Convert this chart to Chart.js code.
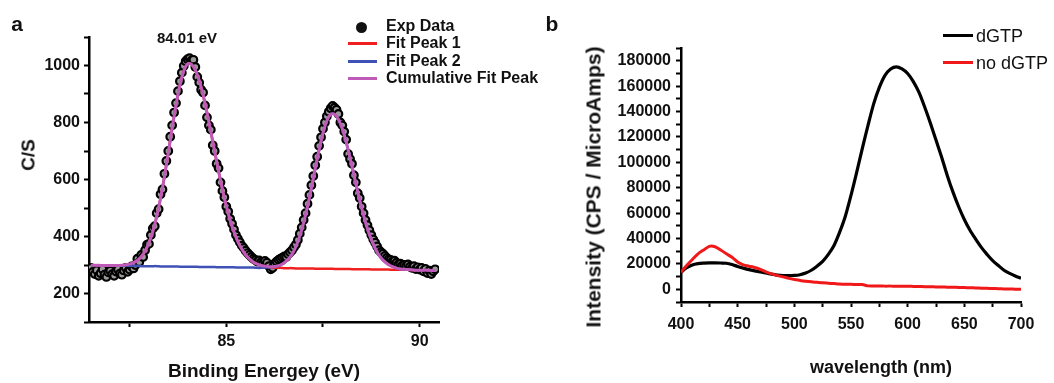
<!DOCTYPE html>
<html>
<head>
<meta charset="utf-8">
<script src="https://cdn.jsdelivr.net/npm/chart.js@4.4.0/dist/chart.umd.min.js"></script>
<style>
  body { margin: 0; background: #fff; font-family: "Liberation Sans", Arial, sans-serif; }
  #wrap { position: relative; width: 1054px; height: 383px; overflow: hidden; }
  canvas { position: absolute; top: 0; }
  .t { position: absolute; white-space: nowrap; color: #111; line-height: 1; }
  .c { transform: translate(-50%, -50%); }
  .l { transform: translateY(-50%); }
  .r { transform: translate(-50%, -50%) rotate(-90deg); }
  .ln { position: absolute; height: 3px; }
</style>
</head>
<body>
<div id="wrap">
  <canvas id="xps" width="540" height="383" style="left:0"></canvas>
  <canvas id="fl" width="514" height="383" style="left:540px"></canvas>

  <div class="t c" style="left:17px; top:23px; font-size:21px; font-weight:bold">a</div>
  <div class="t c" style="left:552px; top:23px; font-size:21px; font-weight:bold">b</div>
  <div class="t c" style="left:187px; top:37px; font-size:15px; font-weight:bold">84.01 eV</div>
  <div class="t r" style="left:28px; top:155px; font-size:19px; font-weight:bold">C/S</div>

  <!-- legend a -->
  <div style="position:absolute; left:356px; top:22px; width:11px; height:11px; border-radius:50%; background:#111"></div>
  <div class="ln" style="left:348px; top:42px; width:29px; background:#f02020"></div>
  <div class="ln" style="left:348px; top:60px; width:29px; background:#3f51b5"></div>
  <div class="ln" style="left:348px; top:77px; width:29px; background:#c05ab8"></div>
  <div class="t l" style="left:386px; top:26px; font-size:16px; font-weight:bold">Exp Data</div>
  <div class="t l" style="left:386px; top:43px; font-size:16px; font-weight:bold">Fit Peak 1</div>
  <div class="t l" style="left:386px; top:61px; font-size:16px; font-weight:bold">Fit Peak 2</div>
  <div class="t l" style="left:386px; top:78px; font-size:16px; font-weight:bold">Cumulative Fit Peak</div>

  <!-- legend b -->
  <div class="ln" style="left:943px; top:34px; width:30px; background:#000"></div>
  <div class="ln" style="left:943px; top:61px; width:30px; background:#f01818"></div>
  <div class="t l" style="left:976px; top:36px; font-size:18px">dGTP</div>
  <div class="t l" style="left:976px; top:63px; font-size:18px">no dGTP</div>

  <div class="t r" style="left:593px; top:187px; font-size:21px; font-weight:bold">Intensity (CPS / MicroAmps)</div>
  <div class="t c" style="left:881px; top:367px; font-size:18px; font-weight:bold">wavelength (nm)</div>
</div>

<script>
// panel a - XPS spectrum, binding energy grid
const fitStart = 81.5, fitStep = 0.1;
const expStart = 81.5, expStep = 0.05;

const expData = [
  290,276,268,282,262,271,285,266,258,274,
  280,268,262,277,284,270,266,281,290,276,
  284,295,288,300,322,310,335,328,352,371,
  374,405,428,436,482,496,548,565,620,665,
  700,750,790,835,868,910,945,975,998,1015,
  1022,1026,1018,1020,995,960,940,915,905,860,
  818,790,775,720,700,655,640,590,560,538,
  505,488,462,445,425,405,392,380,368,360,
  350,342,335,328,322,318,312,316,310,306,
  314,308,296,285,290,305,312,318,322,326,
  330,328,338,345,352,362,372,388,410,432,
  458,482,515,546,580,612,650,680,718,748,
  778,800,822,838,850,858,852,845,830,800,
  790,768,740,690,672,655,615,590,552,535,
  505,482,458,440,422,405,390,378,365,352,
  345,340,332,325,320,318,312,315,308,302,
  305,298,300,296,302,294,290,296,286,292,
  284,290,278,286,272,280,268,278,285
];

const fitPeak1 = [
  299,299,299,298,298,298,298,298,299,301,
  303,308,316,329,349,378,418,470,534,610,
  694,780,861,931,981,1006,1004,984,947,897,
  835,768,698,629,565,507,457,416,382,356,
  336,321,310,303,298,295,293,291,290,290,
  289,289,289,288,288,288,288,288,287,287,
  287,287,287,286,286,286,286,286,285,285,
  285,285,285,284,284,284,284,284,283,283,
  283,283,283,282,282,282,282,282,281,281
];

const fitPeak2 = [
  299,299,299,298,298,298,298,298,297,297,
  297,297,297,296,296,296,296,296,295,295,
  295,295,295,294,294,294,294,294,293,293,
  293,293,293,292,292,292,292,292,291,291,
  291,291,291,290,290,291,291,293,295,300,
  307,320,338,365,402,449,506,570,639,705,
  763,806,829,829,811,778,731,676,616,556,
  500,450,407,373,345,325,311,301,294,289,
  286,285,284,283,282,282,282,282,281,281
];

const fitCumulative = [
  299,299,299,298,298,298,298,298,299,301,
  303,308,316,329,349,378,418,470,534,610,
  694,780,861,931,981,1006,1004,984,947,897,
  835,768,698,629,565,507,457,416,382,356,
  336,321,310,303,298,296,294,294,296,300,
  308,320,338,365,402,449,506,570,639,705,
  763,806,829,829,811,778,731,676,616,556,
  500,450,407,373,345,325,311,301,294,289,
  286,285,284,283,282,282,282,282,281,281
];

// panel b - emission spectra, 400..700 nm every 5 nm
const waveStart = 400, waveStep = 5;

const dGTP = [
  13400,17000,19200,20200,20600,20800,20800,20700,20500,19500,
  18000,16700,15500,14500,13600,12800,12000,11200,10800,10700,
  10900,11500,12800,15000,18200,22000,27500,34500,45000,57500,
  74000,92000,111000,129000,146000,159000,168500,173500,175200,173500,
  169900,163500,155000,143500,131000,117500,104000,89500,76500,65000,
  55000,46500,39500,33000,27500,22500,18700,15000,12500,10500,
  8700
];

const noDGTP = [
  13400,18800,23500,27900,31000,33800,33500,31000,28000,25200,
  21500,19200,18200,17200,15700,13800,12200,10800,9800,8700,
  7700,7000,6400,5900,5500,5100,4800,4500,4200,4000,
  3900,3800,3700,2700,2600,2600,2500,2500,2400,2400,
  2400,2300,2200,2100,2000,1900,1800,1700,1600,1500,
  1400,1200,1100,900,800,600,500,300,200,100,
  0
];

function grid(start, step, n) {
  return Array.from({ length: n }, (_, i) => +(start + i * step).toFixed(2));
}
function pts(xs, ys) {
  return ys.map((y, i) => ({ x: xs[i], y: y }));
}

const fitX = grid(fitStart, fitStep, fitCumulative.length);
const expX = grid(expStart, expStep, expData.length);
const waveX = grid(waveStart, waveStep, dGTP.length);

Chart.defaults.font.family = "'Liberation Sans', Arial, sans-serif";
Chart.defaults.color = '#111';

const tickFont = { size: 16, weight: 'bold' };
const axisBorder = { display: true, color: '#000', width: 2.5 };
const tickGrid = { display: true, drawOnChartArea: false, drawTicks: true, tickLength: 5, color: '#000', tickWidth: 2 };

new Chart(document.getElementById('xps'), {
  type: 'line',
  data: {
    datasets: [
      {
        label: 'Exp Data',
        data: pts(expX, expData),
        showLine: false,
        pointRadius: 3.8,
        pointBorderWidth: 2.2,
        pointBorderColor: '#000',
        pointBackgroundColor: '#9a9a9a',
        order: 3
      },
      {
        label: 'Fit Peak 1',
        data: pts(fitX, fitPeak1),
        borderColor: '#f02020',
        borderWidth: 2.5,
        pointRadius: 0,
        tension: 0.3,
        order: 2
      },
      {
        label: 'Fit Peak 2',
        data: pts(fitX, fitPeak2),
        borderColor: '#3f51b5',
        borderWidth: 2.5,
        pointRadius: 0,
        tension: 0.3,
        order: 1
      },
      {
        label: 'Cumulative Fit Peak',
        data: pts(fitX, fitCumulative),
        borderColor: '#c05ab8',
        borderWidth: 3,
        pointRadius: 0,
        tension: 0.3,
        order: 0
      }
    ]
  },
  options: {
    responsive: false,
    animation: false,
    layout: { padding: { left: 0, top: 37, right: 101, bottom: 0 } },
    plugins: { legend: { display: false }, tooltip: { enabled: false } },
    scales: {
      x: {
        type: 'linear',
        min: 81.45,
        max: 90.5,
        border: axisBorder,
        grid: tickGrid,
        ticks: {
          stepSize: 2.5,
          autoSkip: false,
          maxRotation: 0,
          padding: 5,
          includeBounds: false,
          font: tickFont,
          callback: v => (Math.abs(v % 5) < 1e-6 ? String(v) : '')
        },
        title: {
          display: true,
          text: 'Binding Energey (eV)',
          font: { size: 19, weight: 'bold' },
          padding: { top: 0, bottom: 0 }
        },
        afterFit: s => { s.height = 61; }
      },
      y: {
        min: 100,
        max: 1100,
        border: axisBorder,
        grid: tickGrid,
        ticks: {
          stepSize: 100,
          autoSkip: false,
          padding: 4,
          font: tickFont,
          callback: v => (v % 200 === 0 && v >= 200 && v <= 1000 ? String(v) : '')
        },
        afterFit: s => { s.width = 89; }
      }
    }
  }
});

new Chart(document.getElementById('fl'), {
  type: 'line',
  data: {
    datasets: [
      {
        label: 'dGTP',
        data: pts(waveX, dGTP),
        borderColor: '#000',
        borderWidth: 3.2,
        pointRadius: 0,
        tension: 0.3,
        order: 1
      },
      {
        label: 'no dGTP',
        data: pts(waveX, noDGTP),
        borderColor: '#f01818',
        borderWidth: 3,
        pointRadius: 0,
        tension: 0.3,
        order: 0
      }
    ]
  },
  options: {
    responsive: false,
    animation: false,
    layout: { padding: { left: 0, top: 48, right: 33, bottom: 0 } },
    plugins: { legend: { display: false }, tooltip: { enabled: false } },
    scales: {
      x: {
        type: 'linear',
        min: 400,
        max: 700,
        border: axisBorder,
        grid: tickGrid,
        ticks: {
          stepSize: 25,
          autoSkip: false,
          maxRotation: 0,
          padding: 8,
          font: tickFont,
          callback: v => (v % 50 === 0 ? String(v) : '')
        },
        afterFit: s => { s.height = 81; }
      },
      y: {
        min: -10000,
        max: 190000,
        border: axisBorder,
        grid: tickGrid,
        ticks: {
          stepSize: 10000,
          autoSkip: false,
          padding: 5,
          font: tickFont,
          callback: v => (v % 20000 === 0 && v >= 0 && v <= 180000 ? String(v) : '')
        },
        afterFit: s => { s.width = 141; }
      }
    }
  }
});
</script>
</body>
</html>
